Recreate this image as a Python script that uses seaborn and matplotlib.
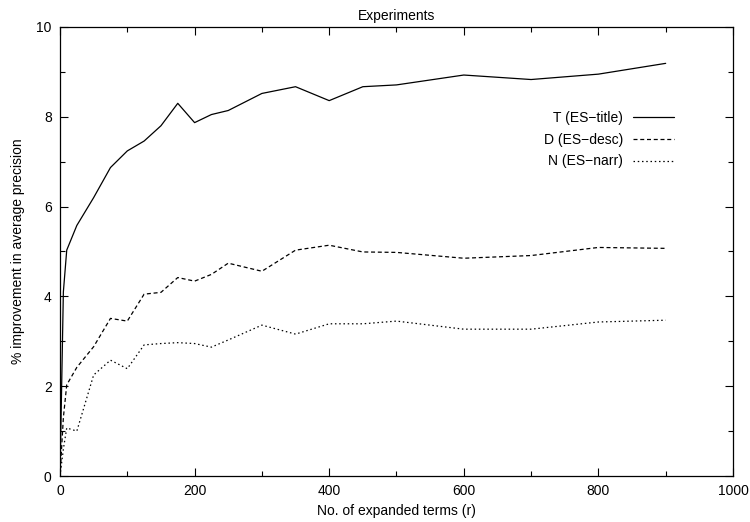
import matplotlib
matplotlib.use("Agg")
import matplotlib.pyplot as plt
from matplotlib.ticker import MultipleLocator
import seaborn as sns
import pandas as pd

# Data
terms = [0, 5, 10, 25, 50, 75, 100, 125, 150, 175, 200, 225, 250, 300, 350, 400, 450, 500, 600, 700, 800, 900]
t_title = [0, 4.10, 5.03, 5.58, 6.20, 6.87, 7.24, 7.46, 7.80, 8.30, 7.87, 8.05, 8.14, 8.52, 8.67, 8.36, 8.67, 8.71, 8.93, 8.83, 8.95, 9.19]
d_desc = [0, 1.30, 2.03, 2.42, 2.88, 3.51, 3.45, 4.05, 4.09, 4.42, 4.34, 4.49, 4.74, 4.56, 5.03, 5.14, 4.99, 4.98, 4.85, 4.91, 5.09, 5.07]
n_narr = [0, 0.60, 1.07, 1.00, 2.25, 2.58, 2.39, 2.92, 2.95, 2.97, 2.95, 2.87, 3.03, 3.36, 3.16, 3.39, 3.39, 3.45, 3.27, 3.27, 3.43, 3.47]

series_names = ["T (ES\u2212title)", "D (ES\u2212desc)", "N (ES\u2212narr)"]
title = "Experiments"
xlabel = "No. of expanded terms (r)"
ylabel = "% improvement in average precision"

sns.set_style("ticks")
plt.rcParams["font.family"] = ["Liberation Sans", "DejaVu Sans"]
plt.rcParams["font.size"] = 10
plt.rcParams["text.color"] = "black"
plt.rcParams["axes.labelcolor"] = "black"
plt.rcParams["xtick.color"] = "black"
plt.rcParams["ytick.color"] = "black"

df = pd.DataFrame({
    "r": terms * 3,
    "val": t_title + d_desc + n_narr,
    "series": [series_names[0]] * len(terms) + [series_names[1]] * len(terms) + [series_names[2]] * len(terms),
})

fig = plt.figure(figsize=(7.5, 5.22), dpi=100)
ax = fig.add_axes([0.08, 0.0881, 0.8973, 0.8602])

styles = {series_names[0]: "-", series_names[1]: (0, (3.2, 2.2)), series_names[2]: (0, (1.2, 2.2))}
for name in series_names:
    sub = df[df["series"] == name]
    sns.lineplot(data=sub, x="r", y="val", ax=ax, color="black", linewidth=0.9,
                 linestyle=styles[name], label=name, estimator=None, sort=False)

ax.set_xlim(0, 1000)
ax.set_ylim(0, 10)
ax.xaxis.set_major_locator(MultipleLocator(200))
ax.xaxis.set_minor_locator(MultipleLocator(100))
ax.yaxis.set_major_locator(MultipleLocator(2))
ax.yaxis.set_minor_locator(MultipleLocator(1))
ax.tick_params(which="both", direction="in", top=True, right=True, color="black",
               labelcolor="black", width=0.8)
ax.tick_params(which="major", length=5.5, labelsize=10, pad=6)
ax.tick_params(which="minor", length=3.5)
for s in ax.spines.values():
    s.set_visible(True)
    s.set_linewidth(0.9)
    s.set_color("black")

ax.set_title(title, fontsize=10, pad=5, color="black")
ax.set_xlabel(xlabel, fontsize=10, labelpad=4, color="black")
ax.set_ylabel(ylabel, fontsize=10, labelpad=8, color="black")

leg = ax.legend(loc="upper right", bbox_to_anchor=(0.923, 0.828), frameon=False,
                markerfirst=False, handlelength=3.0, handletextpad=0.7,
                labelspacing=0.55, borderpad=0, fontsize=10)
for txt in leg.get_texts():
    txt.set_color("black")

fig.savefig("out.png", dpi=100)
